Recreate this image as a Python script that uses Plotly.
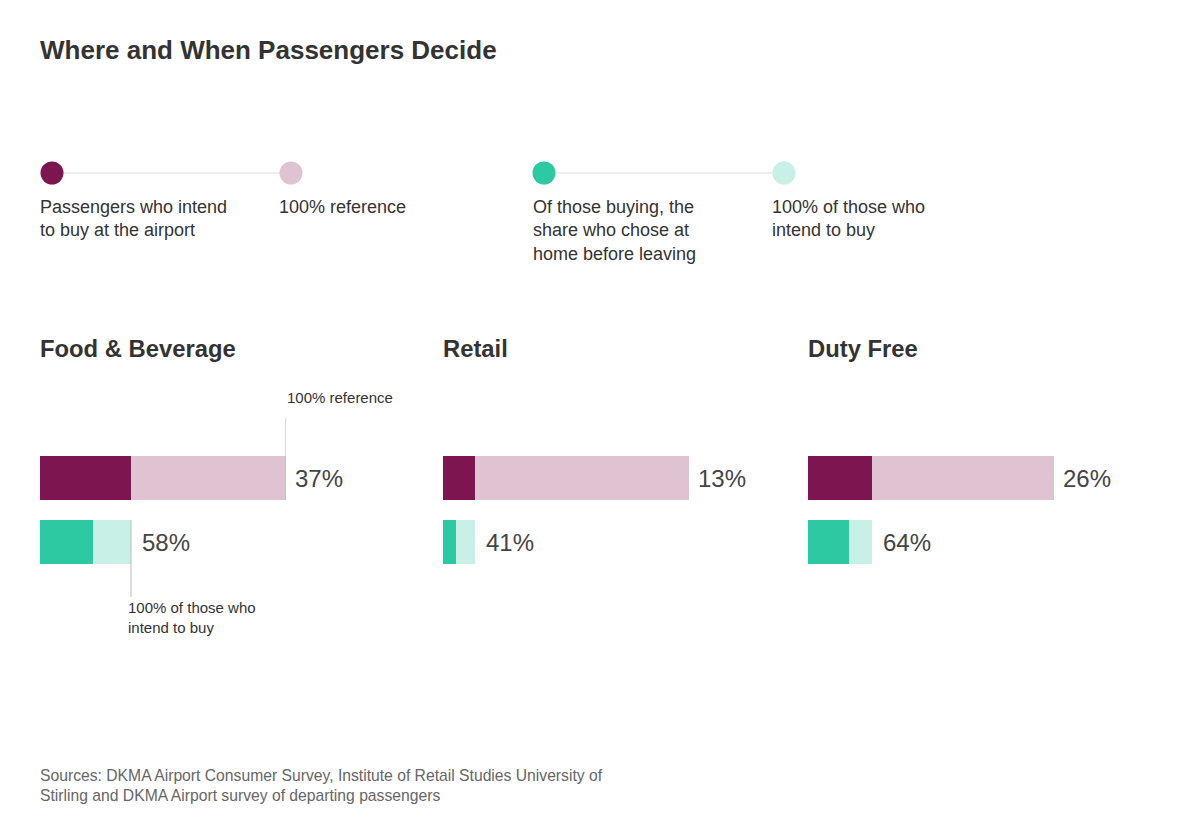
import plotly.graph_objects as go

# ---- data ----
categories = ["Food & Beverage", "Retail", "Duty Free"]
intend_share = [0.37, 0.13, 0.26]          # passengers who intend to buy at airport
home_share = [0.58, 0.41, 0.64]            # of those buying, share who chose at home
intend_labels = ["37%", "13%", "26%"]
home_labels = ["58%", "41%", "64%"]

legend_items = [
    "Passengers who intend<br>to buy at the airport",
    "100% reference",
    "Of those buying, the<br>share who chose at<br>home before leaving",
    "100% of those who<br>intend to buy",
]
title_text = "Where and When Passengers Decide"
source_text = ("Sources: DKMA Airport Consumer Survey, Institute of Retail Studies University of<br>"
               "Stirling and DKMA Airport survey of departing passengers")

# ---- styling ----
W, H = 1200, 833
DARK_PURPLE = "#7d1650"
LIGHT_PURPLE = "#dfc3d3"
DARK_GREEN = "#2dc9a2"
LIGHT_GREEN = "#c8f0e6"
TXT = "#333333"
FONT = "Liberation Sans, Arial, Helvetica, sans-serif"

def py(px):
    return 1 - px / H

def pxx(px):
    return px / W

panel_left = [40, 443, 808]
bar_len = 246
row_gap = 64
y_top_px, y_bot_px = 380, 640
row0_px = 478
yr = [(y_bot_px - row0_px) / row_gap, (y_top_px - row0_px) / row_gap]
BW = 44 / row_gap

fig = go.Figure()
layout_axes = {}
annotations = []
shapes = []

for i, cat in enumerate(categories):
    n = "" if i == 0 else str(i + 1)
    xa, ya = "x" + n, "y" + n
    a_total = intend_share[i]
    g_dark = intend_share[i] * home_share[i]
    traces = [
        (1.0, 0, LIGHT_PURPLE),
        (a_total, 0, DARK_PURPLE),
        (a_total, 1, LIGHT_GREEN),
        (g_dark, 1, DARK_GREEN),
    ]
    for xv, yv, col in traces:
        fig.add_trace(go.Bar(x=[xv], y=[yv], orientation="h", width=BW,
                             marker=dict(color=col, line=dict(width=0)),
                             xaxis=xa, yaxis=ya, hoverinfo="skip", showlegend=False))
    l = panel_left[i]
    layout_axes["xaxis" + n] = dict(domain=[pxx(l), pxx(l + bar_len)], range=[0, 1],
                                    visible=False, anchor=ya, fixedrange=True)
    layout_axes["yaxis" + n] = dict(domain=[py(y_bot_px), py(y_top_px)], range=yr,
                                    visible=False, anchor=xa, fixedrange=True)
    # panel title
    annotations.append(dict(text="<b>" + cat + "</b>", x=pxx(l), y=py(348), xref="paper", yref="paper",
                            xanchor="left", yanchor="middle", xshift=-2, showarrow=False,
                            font=dict(size=23.8, color=TXT, family=FONT)))
    # value labels
    annotations.append(dict(text=intend_labels[i], x=1.0, y=0, xref=xa, yref=ya,
                            xanchor="left", yanchor="middle", xshift=7, showarrow=False,
                            font=dict(size=24, color="#444444", family=FONT)))
    annotations.append(dict(text=home_labels[i], x=a_total, y=1, xref=xa, yref=ya,
                            xanchor="left", yanchor="middle", xshift=9, showarrow=False,
                            font=dict(size=24, color="#444444", family=FONT)))
    if i == 0:
        shapes.append(dict(type="line", xref=xa, yref=ya, x0=1.0, x1=1.0,
                           y0=(418 - row0_px) / row_gap, y1=BW / 2,
                           line=dict(color="#bbbbbb", width=1), layer="above"))
        shapes.append(dict(type="line", xref=xa, yref=ya, x0=a_total, x1=a_total,
                           y0=1 - BW / 2, y1=(597 - row0_px) / row_gap,
                           line=dict(color="#bbbbbb", width=1), layer="above"))
        annotations.append(dict(text="100% reference", x=1.0, y=(397 - row0_px) / row_gap,
                                xref=xa, yref=ya, xanchor="left", yanchor="middle", xshift=-1,
                                showarrow=False, font=dict(size=15, color=TXT, family=FONT)))
        annotations.append(dict(text="100% of those who<br>intend to buy", x=a_total,
                                y=(597 - row0_px) / row_gap, xref=xa, yref=ya, xanchor="left",
                                yanchor="top", xshift=-5, align="left", showarrow=False,
                                font=dict(size=15, color=TXT, family=FONT)))

# ---- legend (drawn on a pixel-based axis) ----
leg_x = [52, 291, 544, 784]
leg_colors = [DARK_PURPLE, LIGHT_PURPLE, DARK_GREEN, LIGHT_GREEN]
for a, b in [(0, 1), (2, 3)]:
    fig.add_trace(go.Scatter(x=[leg_x[a], leg_x[b]], y=[173, 173], mode="lines",
                             line=dict(color="#dddddd", width=1.2),
                             xaxis="x4", yaxis="y4", hoverinfo="skip", showlegend=False))
fig.add_trace(go.Scatter(x=leg_x, y=[173] * 4, mode="markers",
                         marker=dict(size=23, color=leg_colors, line=dict(width=0)),
                         xaxis="x4", yaxis="y4", hoverinfo="skip", showlegend=False))
layout_axes["xaxis4"] = dict(domain=[0, 1], range=[0, W], visible=False, anchor="y4", fixedrange=True)
layout_axes["yaxis4"] = dict(domain=[0, 1], range=[H, 0], visible=False, anchor="x4", fixedrange=True)

leg_text_x = [40, 279, 533, 772]
for tx, t in zip(leg_text_x, legend_items):
    annotations.append(dict(text=t, x=pxx(tx), y=py(195), xref="paper", yref="paper",
                            xanchor="left", yanchor="top", align="left", xshift=-2, showarrow=False,
                            font=dict(size=18, color=TXT, family=FONT)))

annotations.append(dict(text="<b>" + title_text + "</b>", x=pxx(40), y=py(50), xref="paper", yref="paper",
                        xanchor="left", yanchor="middle", xshift=-2, showarrow=False,
                        font=dict(size=26, color=TXT, family=FONT)))
annotations.append(dict(text=source_text, x=pxx(40), y=py(765), xref="paper", yref="paper",
                        xanchor="left", yanchor="top", align="left", xshift=-2, showarrow=False,
                        font=dict(size=15.7, color="#666666", family=FONT)))

fig.update_layout(
    width=W, height=H, margin=dict(l=0, r=0, t=0, b=0),
    paper_bgcolor="white", plot_bgcolor="rgba(0,0,0,0)",
    barmode="overlay", bargap=0, showlegend=False,
    annotations=annotations, shapes=shapes, font=dict(family=FONT),
    **layout_axes,
)
fig.write_html("out.html", config={"displayModeBar": False})
